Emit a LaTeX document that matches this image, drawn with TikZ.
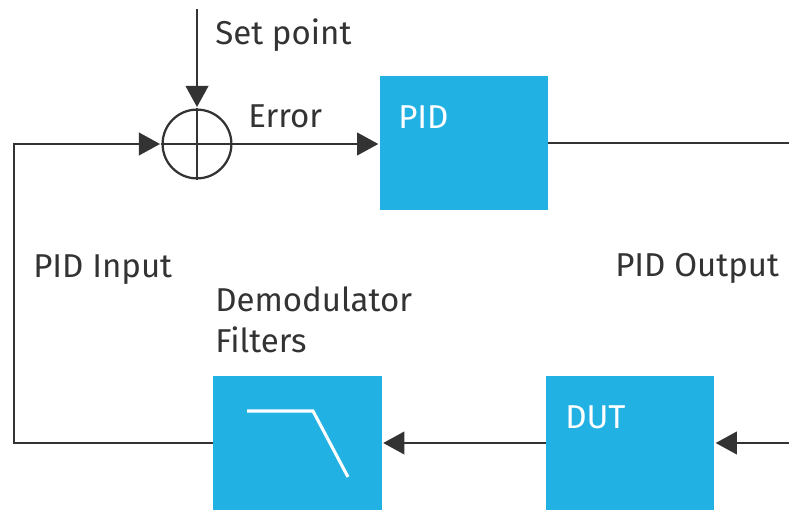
\documentclass[tikz,border=0pt]{standalone}
\usepackage{fontspec}
\setmainfont{Fira Sans}
\usetikzlibrary{arrows.meta,positioning}
\definecolor{boxblue}{HTML}{21B1E3}
\definecolor{wirecol}{HTML}{333333}
\tikzset{
  wire/.style={draw=wirecol,line width=1.6pt},
  sig/.style={wire,-{Triangle[length=15pt,width=16pt]},shorten >=1pt},
  block/.style={fill=boxblue,minimum width=4.2cm,minimum height=3.35cm,inner sep=0pt},
  blocktext/.style={text=white,anchor=base west,inner sep=0pt,font=\fontsize{23.5}{29}\selectfont},
  lbl/.style={text=wirecol,anchor=base west,inner sep=0pt,align=left,font=\fontsize{23.5}{29}\selectfont}
}
\begin{document}
\begin{tikzpicture}[x=0.025cm,y=-0.025cm]
\useasboundingbox (0,0) rectangle (789,511);

% blocks
\node[block] (pid) at (464,143) {};
\node[block] (dut) at (630,443) {};
\node[block] (demod) at (297.5,443) {};
\node[blocktext] (pidtxt) at (398,129) {PID};
\node[blocktext] (duttxt) at (565,428) {DUT};

% filter curve
\begin{scope}[shift={(demod.center)}]
\draw[white,line width=2.2pt] (-50.5,-32) -- (15.5,-32) -- (50.5,34);
\end{scope}

% summing point
\node[circle,wire,minimum size=1.72cm,inner sep=0pt] (sum) at (197,144) {};
\draw[wire] (sum.north) -- (sum.south) (sum.west) -- (sum.east);

\coordinate (sp) at (197,9);
\coordinate (lc) at (14,443);
\coordinate (rt) at (789,143);
\coordinate (rb) at (789,443);

% connectors
\draw[sig] (sp) -- (sum.north);
\draw[sig] (sum.east) -- (sum.east-|pid.west);
\draw[wire] (pid.east|-rt) -- (rt);
\draw[sig] (rb) -- (dut.east);
\draw[sig] (dut.west) -- (demod.east);
\draw[sig] (demod.west) -- (lc) |- (sum.west);

% labels
\node[lbl] (setlbl) at (215,45) {Set point};
\node[lbl] (errlbl) at (248,128) {Error};
\node[lbl] (inlbl) at (33,278) {PID Input};
\node[lbl] (outlbl) at (615,277) {PID Output};
\node[lbl] (demodlbl) at (215,352) {Demodulator\\Filters};
\end{tikzpicture}
\end{document}
